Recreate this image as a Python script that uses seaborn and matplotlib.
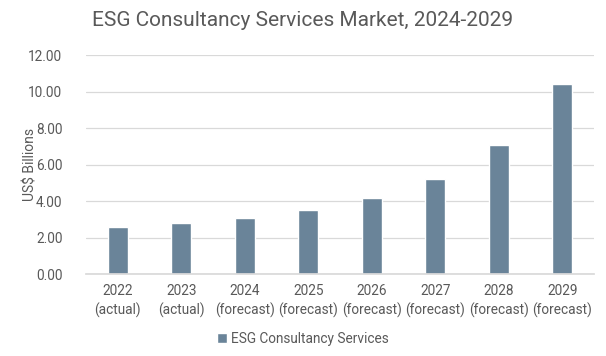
import pandas as pd
import matplotlib.pyplot as plt
import seaborn as sns
import matplotlib.ticker as ticker

YEARS = ["2022", "2023", "2024", "2025", "2026", "2027", "2028", "2029"]
STATUS = ["actual", "actual", "forecast", "forecast", "forecast", "forecast", "forecast", "forecast"]
MARKET_VALUES = [2.60, 2.79, 3.07, 3.50, 4.19, 5.23, 7.08, 10.42]
SERIES_NAME = "ESG Consultancy Services"

BAR_COLOR = "#6A8499"
TEXT_COLOR = "#595959"
GRID_COLOR = "#D9D9D9"

def main():
    labels = [f"{y}\n({s})" for y, s in zip(YEARS, STATUS)]
    df = pd.DataFrame({"Year": labels, "Value": MARKET_VALUES, "Series": SERIES_NAME})

    sns.set_theme(style="white")
    plt.rcParams["font.family"] = ["Roboto", "DejaVu Sans"]

    fig = plt.figure(figsize=(6.06, 3.56), dpi=100)
    ax = fig.add_axes([0.142, 0.2295, 0.838, 0.616])

    sns.barplot(data=df, x="Year", y="Value", hue="Series",
                palette=[BAR_COLOR], width=0.315, saturation=1, ax=ax)

    ax.set_ylim(0, 12)
    ax.yaxis.set_major_locator(ticker.MultipleLocator(2))
    ax.yaxis.set_major_formatter(ticker.FormatStrFormatter("%.2f"))
    ax.grid(axis="y", color=GRID_COLOR, linewidth=0.9)
    ax.set_axisbelow(True)
    for side in ["top", "right", "left"]:
        ax.spines[side].set_visible(False)
    ax.spines["bottom"].set_color(GRID_COLOR)

    ax.tick_params(axis="both", length=0, labelsize=9.8, labelcolor=TEXT_COLOR)
    ax.tick_params(axis="x", pad=7)
    ax.tick_params(axis="y", pad=17)
    for lbl in ax.get_xticklabels():
        lbl.set_linespacing(1.35)
    ax.set_xlabel("")
    ax.set_ylabel("US$ Billions", fontsize=10, color=TEXT_COLOR)
    ax.yaxis.set_label_coords(-0.095, 0.5)

    fig.suptitle("ESG Consultancy Services Market, 2024-2029", x=0.5, y=0.97,
                 fontsize=15, color=TEXT_COLOR)

    ax.legend(frameon=False, fontsize=9.8, labelcolor=TEXT_COLOR,
              handlelength=0.7, handleheight=0.7, handletextpad=0.3,
              loc="center", bbox_to_anchor=(0.5, 0.048), bbox_transform=fig.transFigure)

    fig.savefig("out.png", dpi=100, facecolor="white")

if __name__ == "__main__":
    main()
